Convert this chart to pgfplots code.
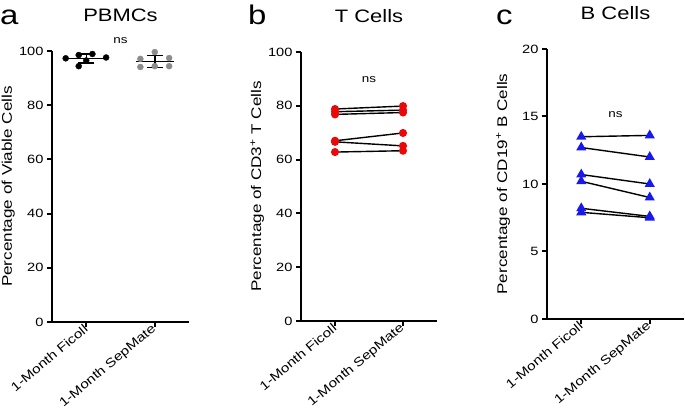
\documentclass[border=0pt]{standalone}
\usepackage{pgfplots}
\pgfplotsset{compat=1.18}
\usepackage{fontspec}
\setmainfont{Liberation Sans}[FakeStretch=1.22]
\definecolor{myred}{RGB}{232,10,10}
\definecolor{myblue}{RGB}{25,25,235}
\definecolor{mygray}{RGB}{140,140,140}
\pgfplotsset{
  panel/.style={
    scale only axis, width=137pt, height=271pt,
    anchor=south west,
    axis x line*=bottom, axis y line*=left,
    axis line style={line width=2pt, black},
    tick style={line width=2pt, black},
    major tick length=5pt,
    tick align=outside,
    xmin=-0.5, xmax=1.5, xtick={0,1},
    xticklabels={1-Month Ficoll,1-Month SepMate},
    x tick label style={rotate=40, anchor=east, xshift=3pt, yshift=0pt, font=\fontsize{12.5}{15}\selectfont},
    y tick label style={font=\fontsize{12}{14}\selectfont},
    /pgf/number format/assume math mode=true,
    ylabel style={at={(axis description cs:-0.245,0.5)}, anchor=south, font=\fontsize{14}{16}\selectfont},
    title style={at={(axis description cs:0.5,1)}, anchor=base, yshift=23pt, font=\fontsize{18}{21}\selectfont},
    clip=false,
  },
  pair/.style={black, line width=1.4pt, mark=*, mark size=3.3pt, mark options={draw=myred, fill=myred}},
  pairb/.style={black, line width=1.4pt, mark=triangle*, mark size=4.5pt, mark options={draw=myblue, fill=myblue}},
}
\begin{document}
\begin{tikzpicture}
\useasboundingbox (0,0) rectangle (685pt,409pt);
% Panel a
\begin{axis}[panel, at={(52pt,87pt)}, ymin=0, ymax=100, ytick={0,20,40,60,80,100},
  ylabel={Percentage of Viable Cells}, title={PBMCs}]
\addplot[only marks, mark=*, mark size=3pt, black] coordinates {
  (-0.30,97.3) (-0.11,98.5) (-0.11,94.4) (0.0,96.5) (0.09,98.9) (0.29,97.6)};
\addplot[only marks, mark=*, mark size=3pt, mygray, mark options={draw=mygray, fill=mygray}] coordinates {
  (0.79,97.1) (0.79,94.1) (1.0,99.6) (1.0,94.4) (1.21,97.4) (1.21,94.4)};
\addplot[black, line width=1.5pt, mark=none] coordinates {(-0.3,97.2) (0.31,97.2)};
\addplot[black, line width=1.5pt, mark=none] coordinates {(0.72,96.2) (1.28,96.2)};
\addplot[draw=none, mark=none, error bars/.cd, y dir=both, y explicit,
  error bar style={line width=1.5pt, black}, error mark options={line width=1.5pt, mark size=8pt, black, rotate=90}]
  coordinates {(0,97.2) +- (0,1.6) (1,96.2) +- (0,2.2)};
\node[anchor=base, font=\fontsize{11}{13}\selectfont] at (axis cs:0.5,102.6) {ns};
\end{axis}
% Panel b
\begin{axis}[panel, at={(301pt,88pt)}, width=136pt, height=269pt, ymin=0, ymax=100, ytick={0,20,40,60,80,100},
  ylabel={Percentage of CD3\textsuperscript{+} T Cells}, title={T Cells}]
\addplot[pair] coordinates {(0,78.8) (1,79.9)};
\addplot[pair] coordinates {(0,77.8) (1,78.4)};
\addplot[pair] coordinates {(0,76.8) (1,77.5)};
\addplot[pair] coordinates {(0,67.0) (1,69.9)};
\addplot[pair] coordinates {(0,66.6) (1,65.1)};
\addplot[pair] coordinates {(0,62.8) (1,63.3)};
\node[anchor=base, font=\fontsize{11}{13}\selectfont] at (axis cs:0.5,88.5) {ns};
\end{axis}
% Panel c
\begin{axis}[panel, at={(547pt,90pt)}, width=137pt, height=270pt, ymin=0, ymax=20, ytick={0,5,10,15,20},
  ylabel={Percentage of CD19\textsuperscript{+} B Cells}, title={B Cells}]
\addplot[pairb] coordinates {(0,13.5) (1,13.6)};
\addplot[pairb] coordinates {(0,12.7) (1,12.0)};
\addplot[pairb] coordinates {(0,10.7) (1,10.0)};
\addplot[pairb] coordinates {(0,10.2) (1,9.0)};
\addplot[pairb] coordinates {(0,8.2) (1,7.6)};
\addplot[pairb] coordinates {(0,7.9) (1,7.5)};
\node[anchor=base, font=\fontsize{11}{13}\selectfont] at (axis cs:0.5,14.9) {ns};
\end{axis}
\node[anchor=base west, font=\fontsize{27}{30}\selectfont, inner sep=0pt] at (0pt,384pt) {a};
\node[anchor=base west, font=\fontsize{27}{30}\selectfont, inner sep=0pt] at (248pt,384pt) {b};
\node[anchor=base west, font=\fontsize{27}{30}\selectfont, inner sep=0pt] at (496pt,384pt) {c};
\end{tikzpicture}
\end{document}
